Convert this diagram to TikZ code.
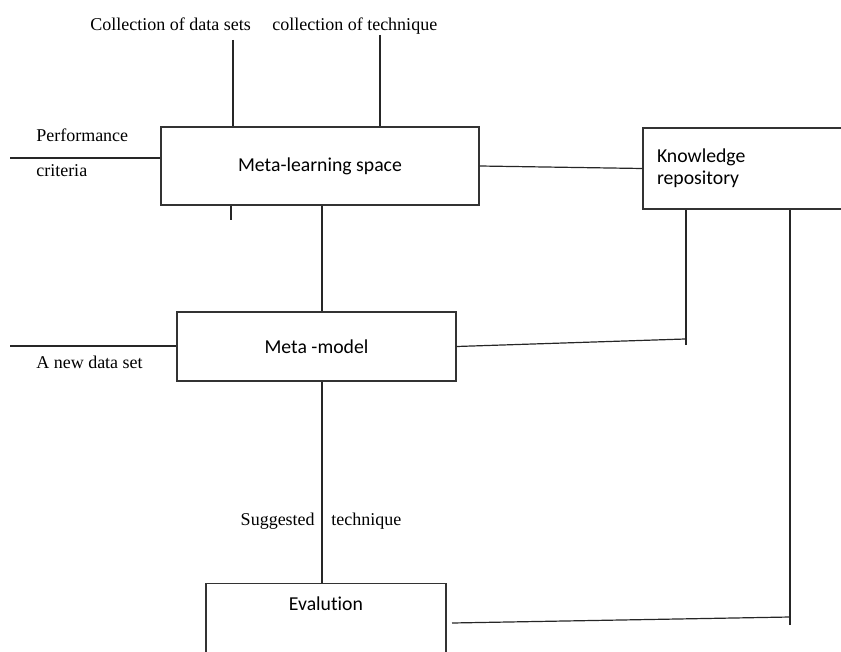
\documentclass[tikz,border=0pt]{standalone}
\usepackage{fontspec}
\setmainfont{Liberation Serif}
\newfontfamily\boxfont[Ligatures=NoCommon]{Carlito}
\usetikzlibrary{positioning}

\tikzset{
  box/.style={draw=black!80, line width=1.1pt, inner sep=0pt, font=\boxfont\fontsize{14.8}{16.5}\selectfont},
  wire/.style={draw=black!85, line width=0.9pt},
  lbl/.style={inner sep=0pt, font=\fontsize{13.5}{16}\selectfont}
}

\begin{document}
\begin{tikzpicture}[x=0.75pt,y=-0.75pt]
    \clip (0,0) rectangle (841,652);
    \useasboundingbox (0,0) rectangle (841,652);

    % boxes
    \node[box, minimum width=238.5pt, minimum height=58.5pt] (space) at (320,166) {Meta-learning space};
    \node[box, minimum width=209.25pt, minimum height=51.75pt] (model) at (316.5,346.5) {Meta -model};
    \node[box, minimum width=195pt, minimum height=60.75pt, text width=174pt, align=left] (repo) at (773,168.5) {Knowledge\\repository};
    \node[box, anchor=north, minimum width=180pt, text height=20.25pt, text depth=80pt] (eval) at (326,583) {Evalution};

    % texts
    \node[lbl, anchor=base west] (sets) at (90,31) {Collection of data sets};
    \node[lbl, anchor=base west] (techs) at (272,31) {collection of technique};
    \node[lbl, anchor=base west] (perf) at (36,142) {Performance};
    \node[lbl, anchor=base west] (crit) at (36,177) {criteria};
    \node[lbl, anchor=base west] (newset) at (36,368) {A new data set};
    \node[lbl, anchor=base east] (sugg) at (315,525) {Suggested};
    \node[lbl, anchor=base west] (sugt) at (331,525) {technique};

    % free ends
    \coordinate (setsend) at (233,40);
    \coordinate (techsend) at (380,35);
    \coordinate (perfend) at (10,158);
    \coordinate (newend) at (10,346);
    \coordinate (tick) at (231,220);
    \coordinate (spine) at (322,0);
    \coordinate (join) at (685,339);
    \coordinate (joinup) at (686,345);
    \coordinate (evout) at (452,623);
    \coordinate (back) at (790,617);
    \coordinate (backlow) at (790,625);

    \draw[wire] (setsend) -- (setsend |- space.north);
    \draw[wire] (techsend) -- (techsend |- space.north);
    \draw[wire] (perfend) -- (perfend -| space.west);
    \draw[wire] (tick |- space.south) -- (tick);
    \draw[wire] (spine |- space.south) -- (spine |- model.north);
    \draw[wire] (space.east) -- (repo.west);
    \draw[wire] (newend) -- (newend -| model.west);
    \draw[wire] (model.east) -- (join);
    \draw[wire] (joinup) -- (joinup |- repo.south);
    \draw[wire] (spine |- model.south) -- (spine |- eval.north);
    \draw[wire] (evout) -- (back);
    \draw[wire] (backlow) -- (backlow |- repo.south);
  \end{tikzpicture}
\end{document}
